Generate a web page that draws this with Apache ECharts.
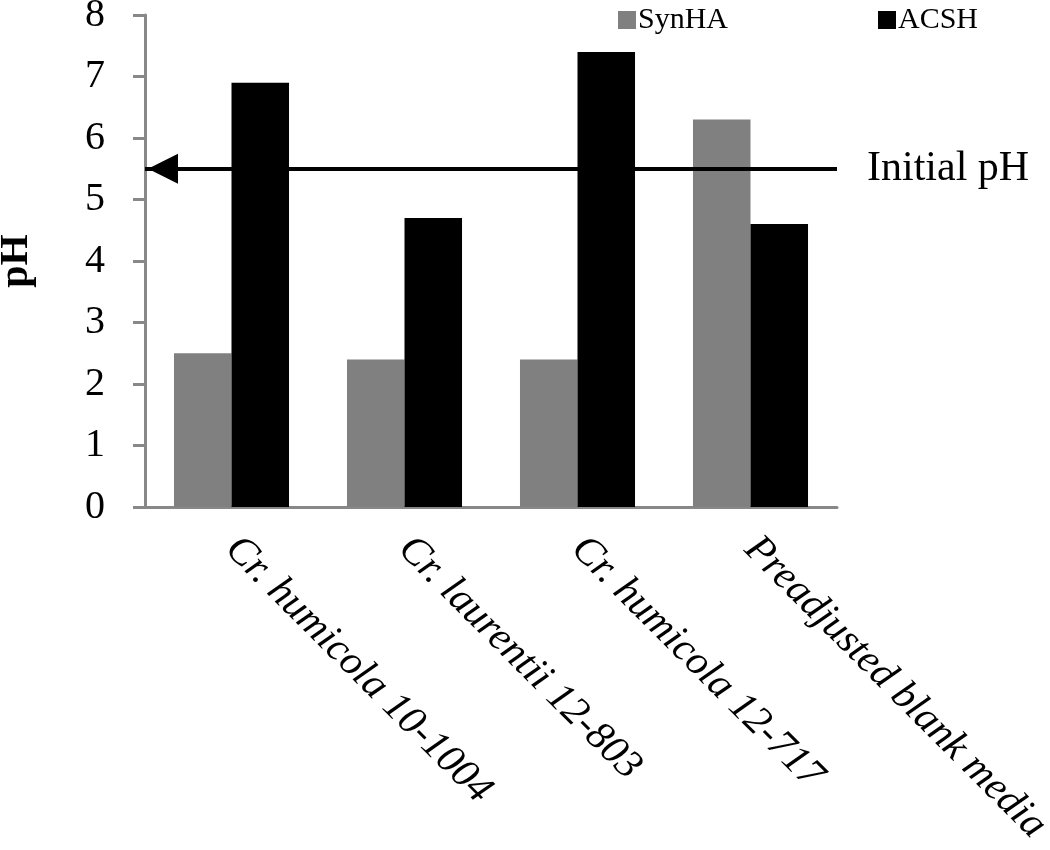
<!DOCTYPE html>
<html>
<head>
<meta charset="utf-8">
<script src="https://cdn.jsdelivr.net/npm/echarts@6/dist/echarts.min.js"></script>
<style>html,body{margin:0;padding:0;background:#fff;}#chart{width:1050px;height:850px;}</style>
</head>
<body>
<div id="chart"></div>
<script>
const categories = ['Cr. humicola 10-1004', 'Cr. laurentii 12-803', 'Cr. humicola 12-717', 'Preadjusted blank media'];
const synHA = [2.5, 2.4, 2.4, 6.3];
const acsh = [6.9, 4.7, 7.4, 4.6];
const initialPH = 5.5;
const yTicks = { min: 0, max: 8, interval: 1 };

const serif = 'Liberation Serif, Times New Roman, serif';
const chart = echarts.init(document.getElementById('chart'));
chart.setOption({
  animation: false,
  backgroundColor: '#fff',
  grid: { left: 145, right: 213, top: 15, bottom: 343, containLabel: false, outerBoundsMode: 'none' },
  legend: [
    { data: ['SynHA'], left: 613, top: 0, icon: 'rect', itemWidth: 18, itemHeight: 18, itemGap: 5,
      textStyle: { fontFamily: serif, fontSize: 30, color: '#000', padding: [0, 0, 0, -3] } },
    { data: ['ACSH'], left: 873, top: 0, icon: 'rect', itemWidth: 18, itemHeight: 18, itemGap: 5,
      textStyle: { fontFamily: serif, fontSize: 30, color: '#000', padding: [0, 0, 0, -3] } }
  ],
  xAxis: {
    type: 'category',
    data: categories,
    axisLine: { lineStyle: { color: '#888', width: 3 } },
    axisTick: { show: false },
    axisLabel: { rotate: -45, fontFamily: serif, fontStyle: 'italic', fontSize: 41, color: '#000', margin: 36, interval: 0 }
  },
  yAxis: {
    type: 'value',
    min: yTicks.min, max: yTicks.max, interval: yTicks.interval,
    name: 'pH', nameLocation: 'middle', nameGap: 108,
    nameTextStyle: { fontFamily: serif, fontSize: 40, fontWeight: 'bold', color: '#000' },
    axisLine: { show: true, lineStyle: { color: '#888', width: 3 } },
    axisTick: { show: true, length: 12, lineStyle: { color: '#888', width: 3 } },
    splitLine: { show: false },
    axisLabel: { fontFamily: serif, fontSize: 40, color: '#000', margin: 40 }
  },
  series: [
    { name: 'SynHA', type: 'bar', data: synHA, itemStyle: { color: '#808080' }, barGap: '0%', barCategoryGap: '33.5%' },
    { name: 'ACSH', type: 'bar', data: acsh, itemStyle: { color: '#000000' }, barGap: '0%', barCategoryGap: '33.5%',
      markLine: {
        silent: true,
        symbol: ['triangle', 'none'],
        symbolSize: [30, 30],
        symbolOffset: [[0, 18], [0, 0]],
        lineStyle: { color: '#000', width: 4, type: 'solid' },
        label: { show: true, position: 'end', formatter: 'Initial pH', fontFamily: serif, fontSize: 42, color: '#000', distance: 30 },
        data: [{ yAxis: initialPH }]
      }
    }
  ]
});
</script>
</body>
</html>
